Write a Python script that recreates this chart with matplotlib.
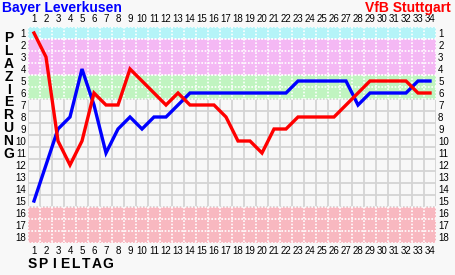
import matplotlib
matplotlib.use("Agg")
import matplotlib.pyplot as plt

# Spieltage und Platzierungen
spieltag = [1, 2, 3, 4, 5, 6, 7, 8, 9, 10, 11, 12, 13, 14, 15, 16, 17,
            18, 19, 20, 21, 22, 23, 24, 25, 26, 27, 28, 29, 30, 31, 32, 33, 34]
leverkusen = [15, 12, 9, 8, 4, 7, 11, 9, 8, 9, 8, 8, 7, 6, 6, 6, 6,
              6, 6, 6, 6, 6, 5, 5, 5, 5, 5, 7, 6, 6, 6, 6, 5, 5]
stuttgart = [1, 3, 10, 12, 10, 6, 7, 7, 4, 5, 6, 7, 6, 7, 7, 7, 8,
             10, 10, 11, 9, 9, 8, 8, 8, 8, 7, 6, 5, 5, 5, 5, 6, 6]
plaetze = list(range(1, 19))

# Tabellenzonen: (erster Platz, letzter Platz, Farbe)
zonen = [(1, 1, "#b4f4f8"), (2, 4, "#f4b8f4"), (5, 6, "#c0f4c0"), (16, 18, "#f8b8c0")]

W, H = 455, 275
bg = "#f8f8f8"
fig = plt.figure(figsize=(W / 100, H / 100), dpi=100, facecolor=bg)
ax = fig.add_axes([28 / W, (H - 243) / H, 408 / W, 216 / H], facecolor=bg)
ax.set_xlim(0.5, 34.5)
ax.set_ylim(18.5, 0.5)

# Gitter grau
for x in range(35):
    ax.axvline(x + 0.5, color="#d4d4d4", lw=1.3, zorder=1)
for y in range(19):
    ax.axhline(y + 0.5, color="#d4d4d4", lw=1.3, zorder=1)

# farbige Zonen mit gepunkteten Linien
for von, bis, farbe in zonen:
    ax.axhspan(von - 0.5, bis + 0.5, color=farbe, lw=0, zorder=2)
    ax.vlines([x + 0.5 for x in range(35)], von - 0.5, bis + 0.5,
              colors="white", lw=1.2, linestyles=(0, (1, 1)), zorder=3)
    ax.hlines([y + 0.5 for y in range(von - 1, bis + 1)], 0.5, 34.5,
              colors="white", lw=1.2, linestyles=(0, (1, 1)), zorder=3)

ax.plot(spieltag, leverkusen, color="#0000ff", lw=2.4, zorder=4,
        solid_joinstyle="miter")
ax.plot(spieltag, stuttgart, color="#ff0000", lw=2.4, zorder=5,
        solid_joinstyle="miter")

for s in ax.spines.values():
    s.set_visible(False)

ax.set_xticks(spieltag)
ax.set_yticks(plaetze)
ax.tick_params(axis="x", top=True, labeltop=True, bottom=True, labelbottom=True,
               length=0, pad=2, labelsize=7)
ax.tick_params(axis="y", left=True, labelleft=True, right=True, labelright=True,
               length=0, pad=1.5, labelsize=7)
for lab in ax.get_xticklabels() + ax.get_yticklabels():
    lab.set_fontfamily("Liberation Sans")

fig.text(2 / W, 1 - 8 / H, "Bayer Leverkusen", color="#0000ff", fontsize=10,
         fontweight="bold", family="Liberation Sans", ha="left", va="center")
fig.text(451 / W, 1 - 8 / H, "VfB Stuttgart", color="#ff0000", fontsize=10,
         fontweight="bold", family="Liberation Sans", ha="right", va="center")

# senkrechte Achsenbeschriftung als ein Text
fig.text(8.5 / W, 1 - 96 / H, "\n".join("PLAZIERUNG"), fontsize=10,
         fontweight="bold", family="Liberation Sans", ha="center", va="center",
         linespacing=0.89)
for i, ch in enumerate("SPIELTAG"):
    fig.text((32 + i * 10.8) / W, 1 - 264 / H, ch, fontsize=10, fontweight="bold",
             family="Liberation Sans", ha="center", va="center")

fig.savefig("out.png", dpi=100, facecolor=bg)
